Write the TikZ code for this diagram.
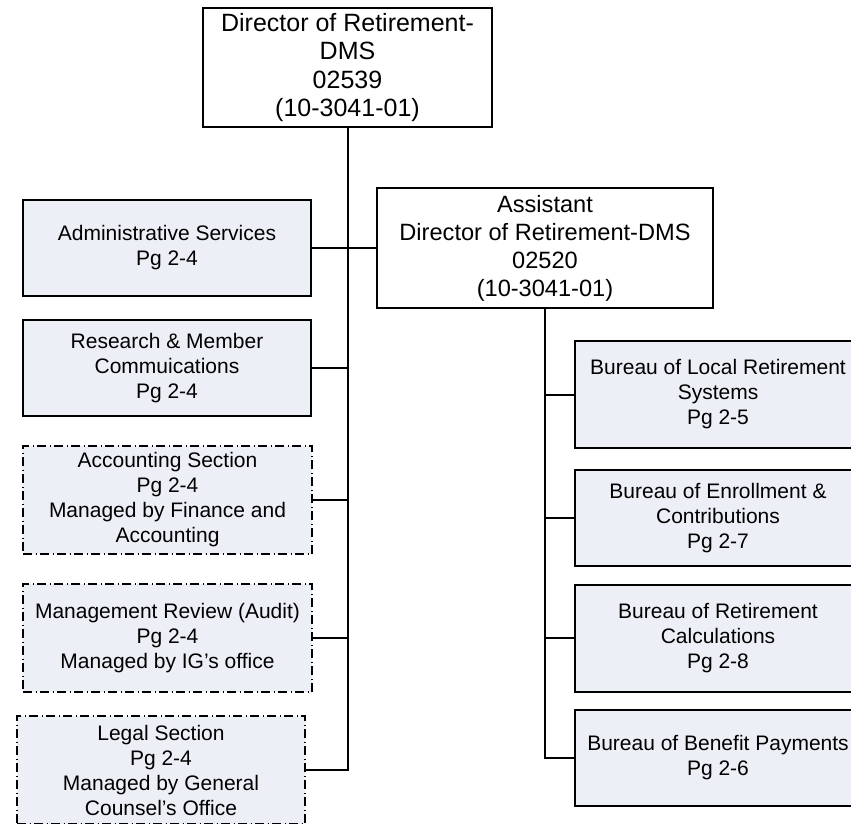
\documentclass[tikz,border=0pt]{standalone}
\usepackage{fontspec}
\setmainfont{Liberation Sans}
\definecolor{unitfill}{RGB}{236,239,245}
\begin{document}
\begin{tikzpicture}[x=1pt,y=-1pt,
  every node/.style={inner sep=0pt,outer sep=0pt,align=center,text=black},
  headbox/.style={draw,line width=2pt,fill=white,rectangle},
  unitbox/.style={draw,line width=2pt,fill=unitfill,rectangle,
    font=\fontsize{21}{25}\selectfont},
  extbox/.style={unitbox,dash pattern=on 9pt off 3.5pt on 1pt off 3.5pt},
  link/.style={line width=2pt}]
\clip (0,0) rectangle (851,823);
\useasboundingbox (0,0) rectangle (851,823);

% top positions
\node[headbox,minimum width=289pt,minimum height=119pt,
  font=\fontsize{25}{28.5}\selectfont] (dir) at (347.5,67.5)
  {Director of Retirement-\\DMS\\02539\\(10-3041-01)};
\node[headbox,minimum width=336pt,minimum height=120pt,
  font=\fontsize{23.6}{28}\selectfont] (asst) at (545,248)
  {Assistant\\Director of Retirement-DMS\\02520\\(10-3041-01)};

% units reporting to the director
\node[unitbox,minimum width=288pt,minimum height=96pt] (admin) at (167,248)
  {Administrative Services\\Pg 2-4};
\node[unitbox,minimum width=288pt,minimum height=96pt] (research) at (167,368)
  {Research \& Member\\Commuications\\Pg 2-4};
\node[extbox,minimum width=289pt,minimum height=108pt] (acct) at (167.5,500)
  {Accounting Section\\Pg 2-4\\Managed by Finance and\\Accounting};
\node[extbox,minimum width=289pt,minimum height=108pt] (mgmt) at (167.5,638)
  {Management Review (Audit)\\Pg 2-4\\Managed by IG’s office};
\node[extbox,minimum width=288pt,minimum height=108pt] (legal) at (161,770)
  {Legal Section\\Pg 2-4\\Managed by General\\Counsel’s Office};

% bureaus reporting to the assistant director
\node[unitbox,minimum width=286pt,minimum height=107pt] (b1) at (718,394.5)
  {Bureau of Local Retirement\\Systems\\Pg 2-5};
\node[unitbox,minimum width=286pt,minimum height=96pt] (b2) at (718,518)
  {Bureau of Enrollment \&\\Contributions\\Pg 2-7};
\node[unitbox,minimum width=286pt,minimum height=107pt] (b3) at (718,638)
  {Bureau of Retirement\\Calculations\\Pg 2-8};
\node[unitbox,minimum width=286pt,minimum height=96pt] (b4) at (718,758)
  {Bureau of Benefit Payments\\Pg 2-6};

% director trunk and branches
\draw[link] (dir.south) |- (legal.east);
\draw[link] (admin.east) -- (asst.west);
\draw[link] (research.east) -- (research.east -| dir.south);
\draw[link] (acct.east) -- (acct.east -| dir.south);
\draw[link] (mgmt.east) -- (mgmt.east -| dir.south);

% assistant director trunk and branches
\draw[link] (asst.south) |- (b4.west);
\draw[link] (b1.west) -- (b1.west -| asst.south);
\draw[link] (b2.west) -- (b2.west -| asst.south);
\draw[link] (b3.west) -- (b3.west -| asst.south);
\end{tikzpicture}
\end{document}
